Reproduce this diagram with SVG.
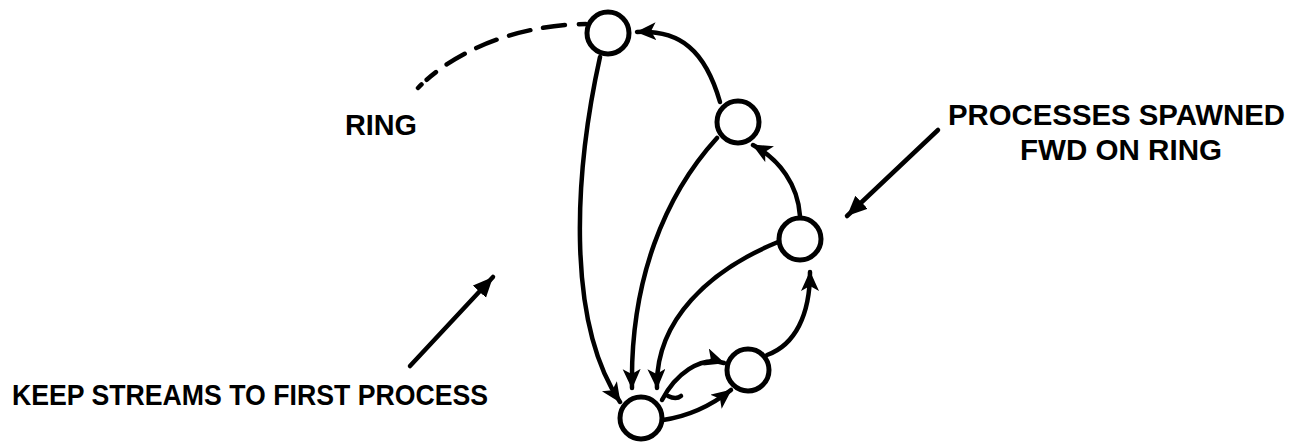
<svg xmlns="http://www.w3.org/2000/svg" width="1314" height="444" viewBox="0 0 1314 444">
<style>
.node{fill:#fff;stroke:#000;stroke-width:5}
.edge{fill:none;stroke:#000;stroke-width:4.5;stroke-linecap:round}
.lbl{font-family:"Liberation Sans",Arial,sans-serif;font-weight:700;font-size:30px;fill:#000}
</style>
<defs>
<marker id="ah" markerUnits="userSpaceOnUse" markerWidth="22" markerHeight="20" refX="19" refY="9" orient="auto">
<path d="M0,0 L20,9 L0,18 L5,9 z" fill="#000"/>
</marker>
<marker id="ah2" markerUnits="userSpaceOnUse" markerWidth="22" markerHeight="20" refX="20" refY="9" orient="auto">
<path d="M0,0 L20,9 L0,18 z" fill="#000"/>
</marker>
</defs>
<rect width="1314" height="444" fill="#fff"/>
<g id="connectors">
<path class="edge" d="M586,24 C510,25 450,55 418,88" stroke-dasharray="7 14 22 13 22 13 22 13 21 13 12" stroke-linecap="butt" stroke-width="5"/>
<path class="edge" d="M600,57 C575,170 565,320 620,402" marker-end="url(#ah)"/>
<path class="edge" d="M720,102 C705,50 680,30 637,32" marker-end="url(#ah)"/>
<path class="edge" d="M800,216 C798,185 780,160 753,145" marker-end="url(#ah)"/>
<path class="edge" d="M717,138 C665,195 630,280 632,388" marker-end="url(#ah)"/>
<path class="edge" d="M778,242 C710,270 655,320 657,388" marker-end="url(#ah)"/>
<path class="edge" d="M662,400 C675,375 700,355 724,363" marker-end="url(#ah)"/>
<path class="edge" d="M668,396 Q676,400 681,396"/>
<path class="edge" d="M663,420 C690,416 712,405 731,390" marker-end="url(#ah)"/>
<path class="edge" d="M767,355 C795,345 810,315 810,272" marker-end="url(#ah)"/>
<path class="edge" d="M410,366 L493,277" marker-end="url(#ah2)"/>
<path class="edge" d="M938,130 L847,216" marker-end="url(#ah2)"/>
</g>
<g id="n1"><circle class="node" cx="608" cy="33" r="21"/></g>
<g id="n2"><circle class="node" cx="738" cy="122" r="21"/></g>
<g id="n3"><circle class="node" cx="800" cy="239" r="21"/></g>
<g id="n4"><circle class="node" cx="748" cy="370" r="21"/></g>
<g id="n5"><circle class="node" cx="641" cy="418" r="21"/></g>
<g id="labels">
<text class="lbl" x="345" y="135" textLength="72" lengthAdjust="spacingAndGlyphs">RING</text>
<text class="lbl" x="12" y="405" textLength="476" lengthAdjust="spacingAndGlyphs">KEEP STREAMS TO FIRST PROCESS</text>
<text class="lbl" x="948" y="125" textLength="337" lengthAdjust="spacingAndGlyphs">PROCESSES SPAWNED</text>
<text class="lbl" x="1020" y="160" textLength="202" lengthAdjust="spacingAndGlyphs">FWD ON RING</text>
</g>
</svg>
